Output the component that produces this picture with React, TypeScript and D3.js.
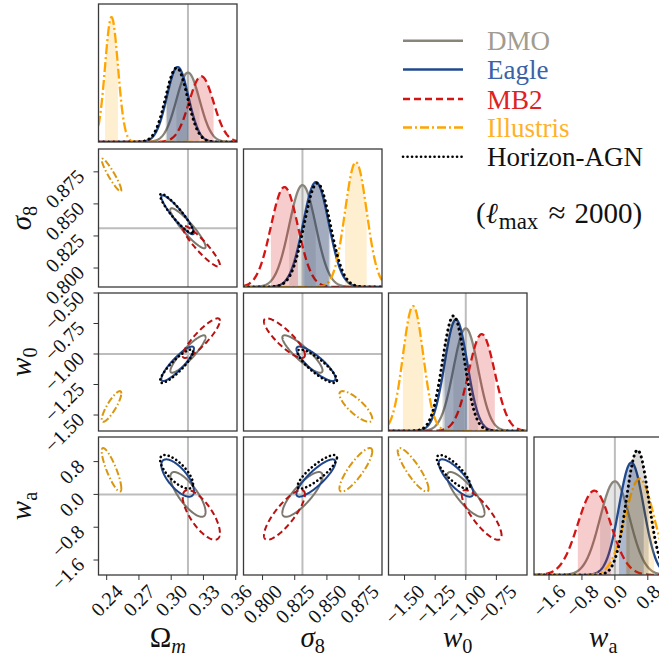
import React from 'react';
import * as d3 from 'd3';

// ---------------- data ----------------
const modelNames = ['DMO', 'Eagle', 'MB2', 'Illustris', 'Horizon-AGN'];
const paramNames = ['Om', 's8', 'w0', 'wa'];

// means per model (DMO, Eagle, MB2, Illustris, Horizon-AGN)
const meanOm = [0.3156, 0.306, 0.328, 0.2445, 0.305];
const meanS8 = [0.831, 0.8415, 0.817, 0.8725, 0.8425];
const meanW0 = [-1.0, -1.08, -0.87, -1.43, -1.1];
const meanWa = [0.0, 0.4, -0.5, 0.6, 0.55];

// 1-sigma marginal errors
const sigOm = [0.0108, 0.01, 0.0114, 0.006, 0.0101];
const sigS8 = [0.0103, 0.01, 0.0105, 0.0084, 0.0101];
const sigW0 = [0.101, 0.093, 0.107, 0.083, 0.09];
const sigWa = [0.36, 0.3, 0.4, 0.35, 0.27];

// correlation coefficients per pair
const rhoOmS8 = [-0.92, -0.92, -0.92, -0.93, -0.92];
const rhoOmW0 = [0.9, 0.88, 0.88, 0.85, 0.88];
const rhoOmWa = [-0.78, -0.7, -0.72, -0.85, -0.72];
const rhoS8W0 = [-0.88, -0.85, -0.85, -0.8, -0.85];
const rhoS8Wa = [0.82, 0.85, 0.82, 0.85, 0.85];
const rhoW0Wa = [-0.82, -0.8, -0.82, -0.87, -0.8];

// fiducial values
const truth = [0.3156, 0.831, -1.0, 0.0];

// axis ranges
const rangeOm = [0.2324, 0.3612];
const rangeS8 = [0.7852, 0.8928];
const rangeW0 = [-1.631, -0.5];
const rangeWa = [-1.965, 1.4];

// tick values
const ticksOm = [0.24, 0.27, 0.3, 0.33, 0.36];
const ticksS8 = [0.8, 0.825, 0.85, 0.875];
const ticksW0x = [-1.5, -1.25, -1.0, -0.75];
const ticksW0y = [-1.5, -1.25, -1.0, -0.75, -0.5];
const ticksWa = [-1.6, -0.8, 0.0, 0.8];
const tickDecimals = [2, 3, 2, 1];

const legendSubtitle = '(ℓmax ≈ 2000)';

// ---------------- style / layout ----------------
const W = 659, H = 660;
const colX = [98.5, 243.5, 388.5, 534];
const rowY = [4, 149, 293, 437];
const PW = 138.5, PH = 138;
const K2D = Math.sqrt(2.3);
const FONT = '"Liberation Serif", "DejaVu Serif", serif';

const lineColor1D = ['#8a857a', '#214a8e', '#d41515', '#ffa500', '#000000'];
const lineColor2D = ['#7d786e', '#1f4689', '#b81111', '#d9960e', '#000000'];
const fillColor = ['#8f8f8f', '#2a5298', '#d41515', '#ffa500', '#000000'];
const fillOpacity = [0.22, 0.3, 0.22, 0.18, 0.15];
const dash1D = [undefined, undefined, '8 4', '10 3 2 3', '0.1 5'];
const dash2D = [undefined, undefined, '6 3.5', '7 2.5 1.5 2.5', '0.1 4.2'];
const width1D = [2.3, 2.3, 2.3, 2.3, 3];
const width2D = [2, 2, 2, 2, 2.6];
const legendTextColor = ['#a19b90', '#3a62a8', '#dd2222', '#ffb228', '#111111'];

const means = [meanOm, meanS8, meanW0, meanWa];
const sigs = [sigOm, sigS8, sigW0, sigWa];
const ranges = [rangeOm, rangeS8, rangeW0, rangeWa];
const xTicks = [ticksOm, ticksS8, ticksW0x, ticksWa];
const yTicks = [ticksOm, ticksS8, ticksW0y, ticksWa];
const rhoMap: Record<string, number[]> = {
  '01': rhoOmS8, '02': rhoOmW0, '03': rhoOmWa,
  '12': rhoS8W0, '13': rhoS8Wa, '23': rhoW0Wa,
};

const fmt = (v: number, d: number) => v.toFixed(d).replace('-', '\u2212');
const gauss = (x: number, mu: number, s: number) =>
  Math.exp(-0.5 * ((x - mu) / s) ** 2) / (s * Math.sqrt(2 * Math.PI));

function labelLen(s: string, fs: number) {
  let L = 0;
  for (const c of s) L += c === '.' ? 0.25 : c === '\u2212' ? 0.56 : 0.5;
  return L * fs;
}

function AxisLabel({ p, size }: { p: number; size: number }) {
  const sub = size * 0.7;
  const dy = size * 0.22;
  if (p === 0)
    return (<>
      <tspan>Ω</tspan>
      <tspan fontStyle="italic" fontSize={sub} dy={dy}>m</tspan>
    </>);
  if (p === 1)
    return (<>
      <tspan fontStyle="italic">σ</tspan>
      <tspan fontSize={sub} dy={dy}>8</tspan>
    </>);
  if (p === 2)
    return (<>
      <tspan fontStyle="italic">w</tspan>
      <tspan fontSize={sub} dy={dy}>0</tspan>
    </>);
  return (<>
    <tspan fontStyle="italic">w</tspan>
    <tspan fontSize={sub} dy={dy}>a</tspan>
  </>);
}

export default function App() {
  const xs = ranges.map((d, j) => d3.scaleLinear().domain(d).range([colX[j], colX[j] + PW]));
  const ys = ranges.map((d, i) => d3.scaleLinear().domain(d).range([rowY[i] + PH, rowY[i]]));
  const nModels = modelNames.length;
  const tickFs = 20;

  const panels: React.ReactNode[] = [];

  for (let i = 0; i < 4; i++) {
    for (let j = 0; j <= i; j++) {
      const x0 = colX[j], y0 = rowY[i];
      const clipId = `clip-${i}-${j}`;
      const xs_ = xs[j];
      const content: React.ReactNode[] = [];

      if (i === j) {
        // 1D marginal
        const [d0, d1] = ranges[j];
        const grid = d3.range(401).map(k => d0 + ((d1 - d0) * k) / 400);
        const peak = d3.max(sigs[j], s => 1 / (s * Math.sqrt(2 * Math.PI))) as number;
        const yS = d3.scaleLinear().domain([0, peak * 1.105]).range([y0 + PH, y0]);
        content.push(
          <line key="tv" x1={xs_(truth[j])} x2={xs_(truth[j])} y1={y0} y2={y0 + PH}
            stroke="#bdbdbd" strokeWidth={2} />
        );
        for (let m = 0; m < nModels; m++) {
          const mu = means[j][m], s = sigs[j][m];
          const pts = grid.filter(x => x > mu - s && x < mu + s);
          const fillPts = [mu - s, ...pts, mu + s];
          const area = d3.area<number>()
            .x(x => xs_(x)).y0(yS(0)).y1(x => yS(gauss(x, mu, s)));
          const line = d3.line<number>().x(x => xs_(x)).y(x => yS(gauss(x, mu, s)));
          content.push(
            <path key={`f${m}`} d={area(fillPts) || ''} fill={fillColor[m]} fillOpacity={fillOpacity[m]} />
          );
          content.push(
            <path key={`l${m}`} d={line(grid) || ''} fill="none" stroke={lineColor1D[m]}
              strokeWidth={width1D[m]} strokeDasharray={dash1D[m]}
              strokeLinecap={m === 4 ? 'round' : 'butt'} />
          );
        }
      } else {
        const ysI = ys[i];
        content.push(
          <line key="tv" x1={xs_(truth[j])} x2={xs_(truth[j])} y1={y0} y2={y0 + PH}
            stroke="#bdbdbd" strokeWidth={2} />,
          <line key="th" x1={x0} x2={x0 + PW} y1={ysI(truth[i])} y2={ysI(truth[i])}
            stroke="#bdbdbd" strokeWidth={2} />
        );
        const rhos = rhoMap[`${j}${i}`];
        const ts = d3.range(240).map(k => (2 * Math.PI * k) / 240);
        for (let m = 0; m < nModels; m++) {
          const mx = means[j][m], my = means[i][m];
          const sx = sigs[j][m], sy = sigs[i][m], r = rhos[m];
          const pts = ts.map(t => {
            const u = Math.cos(t), v = Math.sin(t);
            return [mx + K2D * sx * u, my + K2D * sy * (r * u + Math.sqrt(1 - r * r) * v)];
          });
          const line = d3.line<number[]>().x(p => xs_(p[0])).y(p => ysI(p[1])).curve(d3.curveLinearClosed);
          content.push(
            <path key={`e${m}`} d={line(pts) || ''} fill="none" stroke={lineColor2D[m]}
              strokeWidth={width2D[m]} strokeDasharray={dash2D[m]}
              strokeLinecap={m === 4 ? 'round' : 'butt'} />
          );
        }
      }

      // ticks
      const ticks: React.ReactNode[] = [];
      if (i === 3) {
        xTicks[j].forEach((t, k) => {
          const px = xs_(t);
          const lab = fmt(t, tickDecimals[j]);
          const L = labelLen(lab, tickFs);
          const half = (L + 0.7 * tickFs) / (2 * Math.SQRT2);
          const yc = y0 + PH + 8 + half;
          ticks.push(
            <line key={`xt${k}`} x1={px} x2={px} y1={y0 + PH} y2={y0 + PH + 5} stroke="#333" strokeWidth={1} />,
            <text key={`xl${k}`} transform={`translate(${px},${yc}) rotate(-45)`}
              textAnchor="middle" dominantBaseline="central" fontSize={tickFs} fontFamily={FONT} fill="#111">{lab}</text>
          );
        });
      }
      if (j === 0 && i > 0) {
        yTicks[i].forEach((t, k) => {
          const py = ys[i](t);
          const lab = fmt(t, tickDecimals[i]);
          ticks.push(
            <line key={`yt${k}`} x1={x0 - 5} x2={x0} y1={py} y2={py} stroke="#333" strokeWidth={1} />,
            <text key={`yl${k}`} transform={`translate(${x0 - 18},${py + 1}) rotate(-45)`}
              textAnchor="end" dominantBaseline="central" fontSize={tickFs} fontFamily={FONT} fill="#111">{lab}</text>
          );
        });
      }

      panels.push(
        <g key={`p${i}${j}`}>
          <defs>
            <clipPath id={clipId}><rect x={x0} y={y0} width={PW} height={PH} /></clipPath>
          </defs>
          <rect x={x0} y={y0} width={PW} height={PH} fill="#fff" />
          <g clipPath={`url(#${clipId})`}>{content}</g>
          <rect x={x0} y={y0} width={PW} height={PH} fill="none" stroke="#3a3a3a" strokeWidth={1.3} />
          {ticks}
        </g>
      );
    }
  }

  // axis labels
  const axisLabels: React.ReactNode[] = [];
  const labFs = 29;
  for (let p = 0; p < 4; p++) {
    axisLabels.push(
      <text key={`xa${p}`} x={colX[p] + PW / 2} y={647} textAnchor="middle"
        fontSize={labFs} fontFamily={FONT} fill="#111"><AxisLabel p={p} size={labFs} /></text>
    );
    if (p > 0) {
      axisLabels.push(
        <text key={`ya${p}`} transform={`translate(31,${rowY[p] + PH / 2}) rotate(-90)`} textAnchor="middle"
          fontSize={labFs} fontFamily={FONT} fill="#111"><AxisLabel p={p} size={labFs} /></text>
      );
    }
  }

  // legend
  const legY = [40.7, 69.5, 99, 127.5, 156.7];
  const legend = modelNames.map((name, m) => (
    <g key={`lg${m}`}>
      <line x1={403} x2={463} y1={legY[m]} y2={legY[m]} stroke={lineColor1D[m]}
        strokeWidth={m === 4 ? 2.6 : 2.4} strokeDasharray={m === 4 ? '0.1 4.4' : m === 2 ? '7 4' : m === 3 ? '9 3 2 3' : undefined}
        strokeLinecap={m === 4 ? 'round' : 'butt'} />
      <text x={487} y={legY[m] + 9.5} fontSize={27} fontFamily={FONT} fill={legendTextColor[m]}>{name}</text>
    </g>
  ));

  return (
    <svg width={W} height={H} style={{ position: 'absolute', left: 0, top: 0 }} xmlns="http://www.w3.org/2000/svg">
      <rect x={0} y={0} width={W} height={H} fill="#fff" />
      {panels}
      {axisLabels}
      {legend}
      <text x={476} y={223} fontSize={29} fontFamily={FONT} fill="#111">
        <tspan>(</tspan>
        <tspan fontStyle="italic">ℓ</tspan>
        <tspan fontSize={23} dy={6} dx={1}>max</tspan>
        <tspan dy={-6} dx={10} fontSize={31}>≈</tspan>
        <tspan dx={9}>2000)</tspan>
      </text>
      <desc>{legendSubtitle}</desc>
    </svg>
  );
}
